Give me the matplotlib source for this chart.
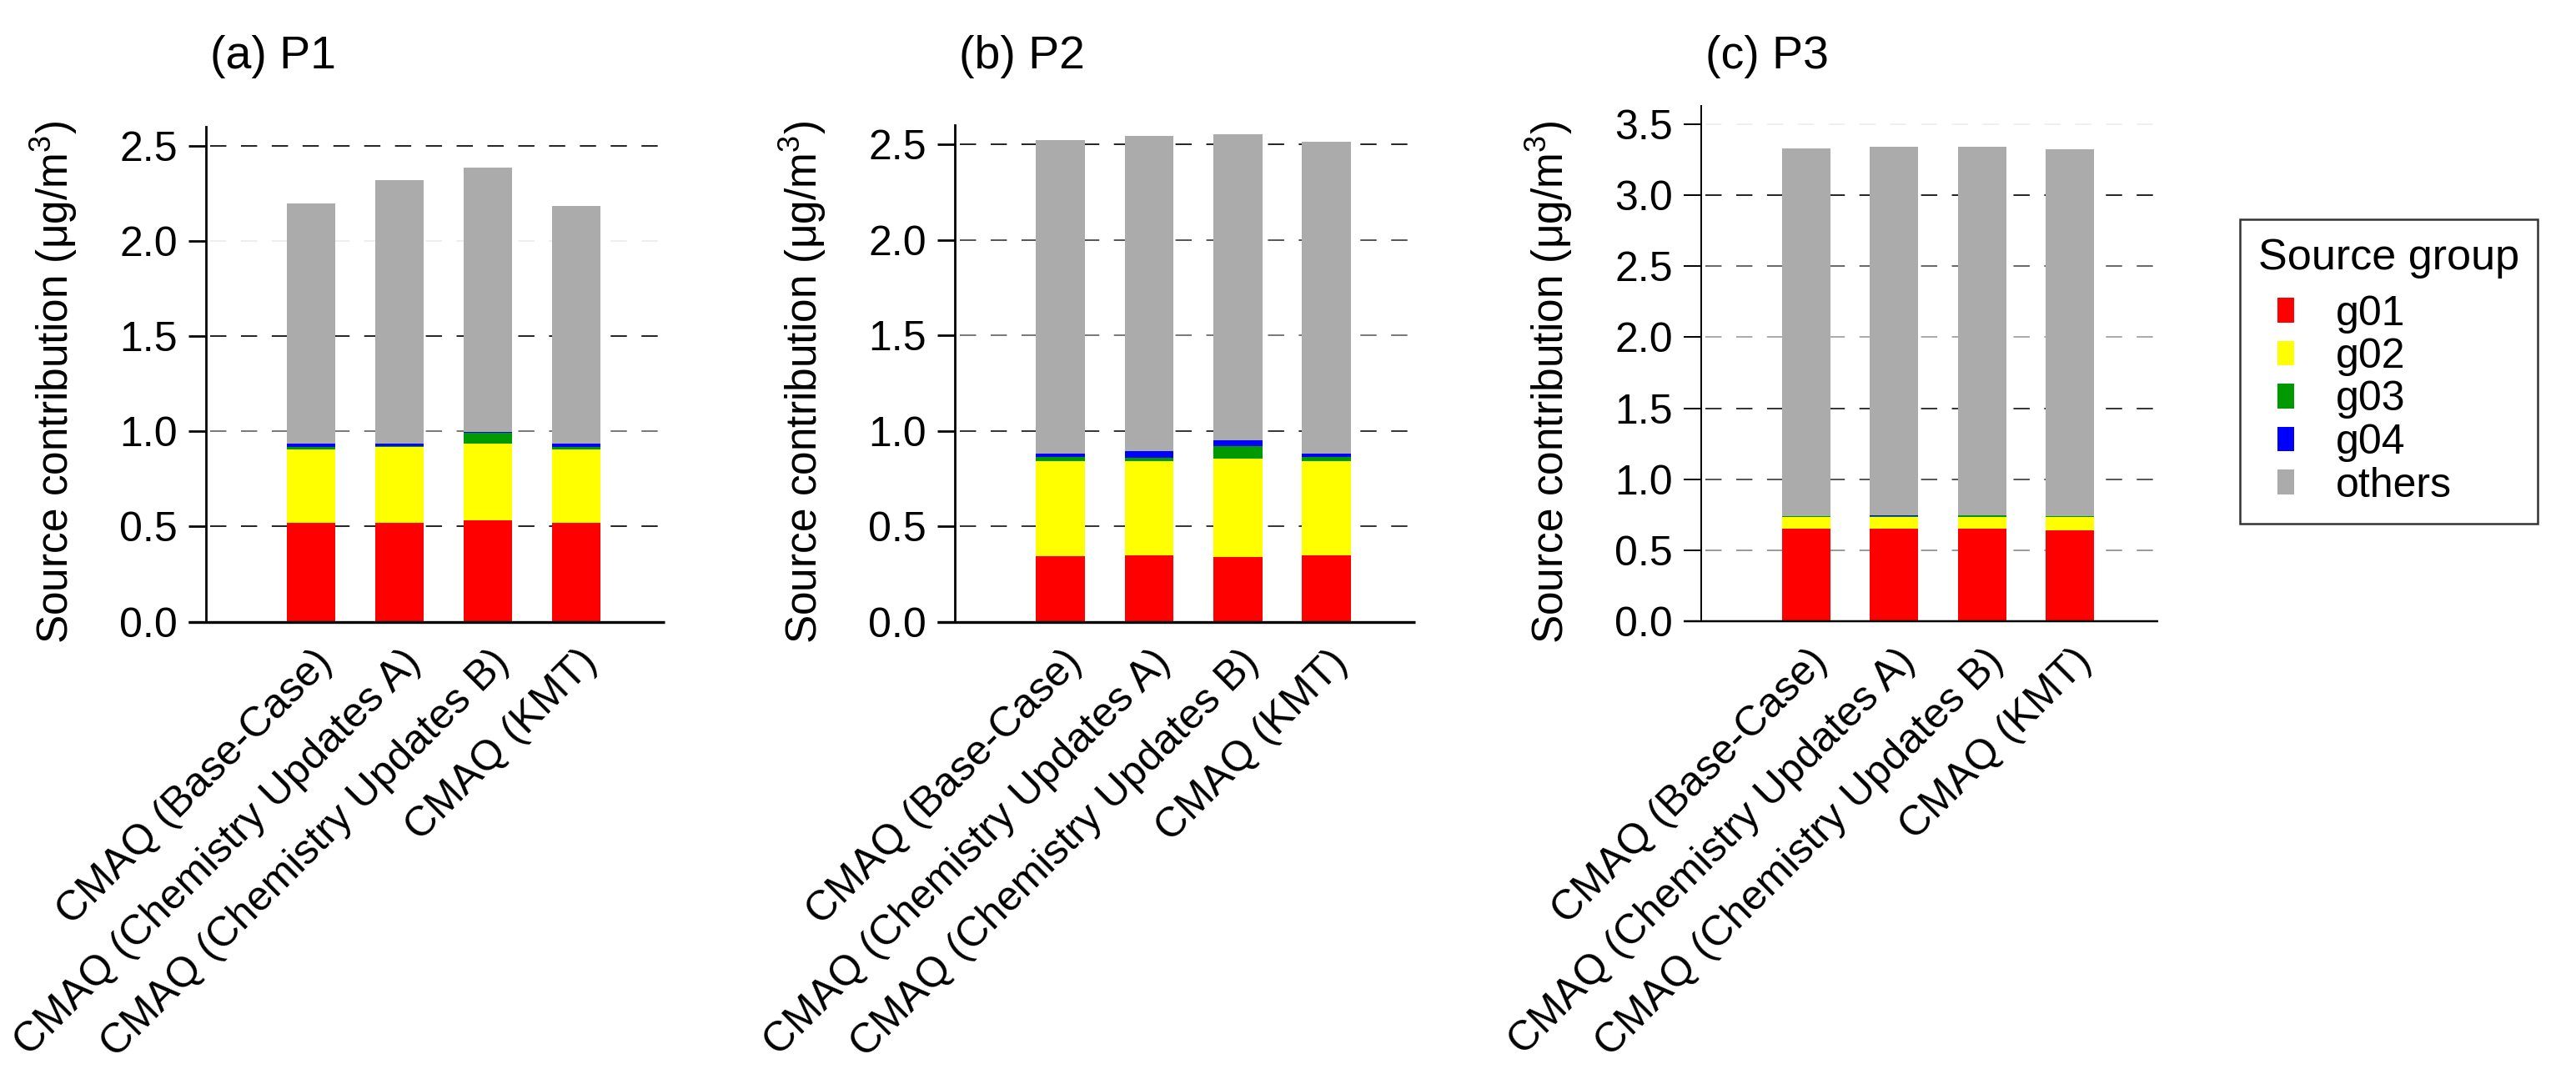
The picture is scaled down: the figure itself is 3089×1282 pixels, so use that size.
import matplotlib
matplotlib.use("Agg")
import matplotlib.pyplot as plt
from matplotlib.patches import Patch, Rectangle
from matplotlib.legend_handler import HandlerPatch
from matplotlib.transforms import ScaledTranslation

plt.rcParams['font.family'] = ['Liberation Sans', 'DejaVu Sans']
plt.rcParams['mathtext.fontset'] = 'custom'
plt.rcParams['mathtext.rm'] = 'Liberation Sans'
plt.rcParams['mathtext.it'] = 'Liberation Sans:italic'

# ---------------- data ----------------
categories = ["CMAQ (Base-Case)", "CMAQ (Chemistry Updates A)",
              "CMAQ (Chemistry Updates B)", "CMAQ (KMT)"]
groups = ["g01", "g02", "g03", "g04", "others"]
panel_titles = ["(a) P1", "(b) P2", "(c) P3"]

p1_g01 = [0.520, 0.520, 0.531, 0.520]
p1_g02 = [0.387, 0.396, 0.403, 0.387]
p1_g03 = [0.012, 0.008, 0.060, 0.012]
p1_g04 = [0.015, 0.010, 0.004, 0.015]
p1_others = [1.263, 1.388, 1.386, 1.250]

p2_g01 = [0.346, 0.349, 0.342, 0.349]
p2_g02 = [0.498, 0.495, 0.512, 0.495]
p2_g03 = [0.020, 0.014, 0.067, 0.020]
p2_g04 = [0.019, 0.036, 0.028, 0.019]
p2_others = [1.639, 1.648, 1.604, 1.630]

p3_g01 = [0.649, 0.649, 0.649, 0.642]
p3_g02 = [0.087, 0.087, 0.087, 0.094]
p3_g03 = [0.002, 0.002, 0.008, 0.002]
p3_g04 = [0.002, 0.006, 0.002, 0.002]
p3_others = [2.590, 2.596, 2.594, 2.585]

p1_yticks = [0.0, 0.5, 1.0, 1.5, 2.0, 2.5]
p2_yticks = [0.0, 0.5, 1.0, 1.5, 2.0, 2.5]
p3_yticks = [0.0, 0.5, 1.0, 1.5, 2.0, 2.5, 3.0, 3.5]

# ---------------- style ----------------
colors = ["#FF0000", "#FFFF00", "#009900", "#0000FF", "#ABABAB"]
W, H, DPI = 3089, 1282, 100

panels = [
    dict(series=[p1_g01, p1_g02, p1_g03, p1_g04, p1_others], yticks=p1_yticks,
         ytop=2.60, rect=(247, 797, 745.5, 152.2), lw=2.0,
         grid={0.5: "#222222", 1.0: "#777777", 1.5: "#222222", 2.0: "#eeeeee", 2.5: "#222222"}),
    dict(series=[p2_g01, p2_g02, p2_g03, p2_g04, p2_others], yticks=p2_yticks,
         ytop=2.60, rect=(1145, 1697, 746.0, 150.0), lw=2.0,
         grid={0.5: "#333333", 1.0: "#333333", 1.5: "#777777", 2.0: "#555555", 2.5: "#222222"}),
    dict(series=[p3_g01, p3_g02, p3_g03, p3_g04, p3_others], yticks=p3_yticks,
         ytop=3.63, rect=(2040, 2588, 744.8, 127.0), lw=1.4,
         grid={0.5: "#999999", 1.0: "#555555", 1.5: "#333333", 2.0: "#aaaaaa",
               2.5: "#666666", 3.0: "#222222", 3.5: "#f0f0f0"}),
]

fig = plt.figure(figsize=(W / DPI, H / DPI), dpi=DPI)
FS = 36

for i, p in enumerate(panels):
    x0, x1, yb, yt = p["rect"]
    ax = fig.add_axes([x0 / W, 1 - yb / H, (x1 - x0) / W, (yb - yt) / H])
    xs = list(range(len(categories)))
    bottom = [0.0] * len(categories)
    for vals, c, g in zip(p["series"], colors, groups):
        ax.bar(xs, vals, width=0.55, bottom=bottom, color=c, edgecolor="none",
               linewidth=0, label=g, zorder=2)
        bottom = [b + v for b, v in zip(bottom, vals)]
    ax.set_xlim(-1.19, 4.0)
    ax.set_ylim(0, p["ytop"])
    for y, gc in p["grid"].items():
        ax.axhline(y, xmin=0.01, xmax=0.99, color=gc, lw=1.4,
                   linestyle=(0, (10, 9)), zorder=1)
    for s in ["top", "right", "bottom"]:
        ax.spines[s].set_visible(False)
    ax.spines["left"].set_linewidth(p["lw"])
    tick_len_px = 21
    ax.plot([-tick_len_px / (x1 - x0), 1.0], [0, 0], color="black", lw=p["lw"] + 0.4,
            transform=ax.get_yaxis_transform(), clip_on=False, zorder=3,
            solid_capstyle="butt")
    ax.set_yticks(p["yticks"])
    ax.set_yticklabels([f"{t:.1f}" for t in p["yticks"]])
    ax.tick_params(axis="y", length=tick_len_px * 72 / DPI, width=p["lw"],
                   pad=9.5, labelsize=FS, direction="out")
    ax.set_xticks(xs)
    ax.set_xticklabels(categories)
    ax.tick_params(axis="x", length=0, pad=18, labelsize=FS)
    off = ScaledTranslation(1.5 / 72, 0, fig.dpi_scale_trans)
    for lbl in ax.get_xticklabels():
        lbl.set_rotation(45)
        lbl.set_ha("right")
        lbl.set_va("top")
        lbl.set_rotation_mode("anchor")
        lbl.set_transform(lbl.get_transform() + off)
    ax.patch.set_visible(False)
    fig.text((x0 + 5) / W, 1 - 82 / H, panel_titles[i], fontsize=40,
             ha="left", va="baseline")
    fig.text((x0 - 182) / W, 1 - 458 / H, r"Source contribution (μg/m$^{\mathrm{3}}$)",
             fontsize=37, rotation=90, ha="center", va="center")


def narrow_rect(legend, orig_handle, xdescent, ydescent, width, height, fontsize):
    w = width * 0.45
    return Rectangle((-xdescent + width - w, -ydescent), w, height)


LFS = 36
handles = [Patch(facecolor=c, edgecolor="none") for c in colors]
leg = fig.legend(handles, groups, title="Source group", loc="upper left",
                 bbox_to_anchor=(2686 / W, 1 - 263 / H),
                 bbox_transform=fig.transFigure,
                 fontsize=LFS, title_fontsize=37.5, frameon=True, fancybox=False,
                 edgecolor="black", borderpad=0.44, labelspacing=0.11,
                 handlelength=0.85, handleheight=0.53, handletextpad=1.0,
                 alignment="left", borderaxespad=0,
                 handler_map={Patch: HandlerPatch(patch_func=narrow_rect)})
leg.get_frame().set_linewidth(1.8)
# extra gap between the legend title and the entries
leg._legend_box.sep = 19.5 * 72 / DPI

fig.savefig("out.png", dpi=DPI, facecolor="white")
